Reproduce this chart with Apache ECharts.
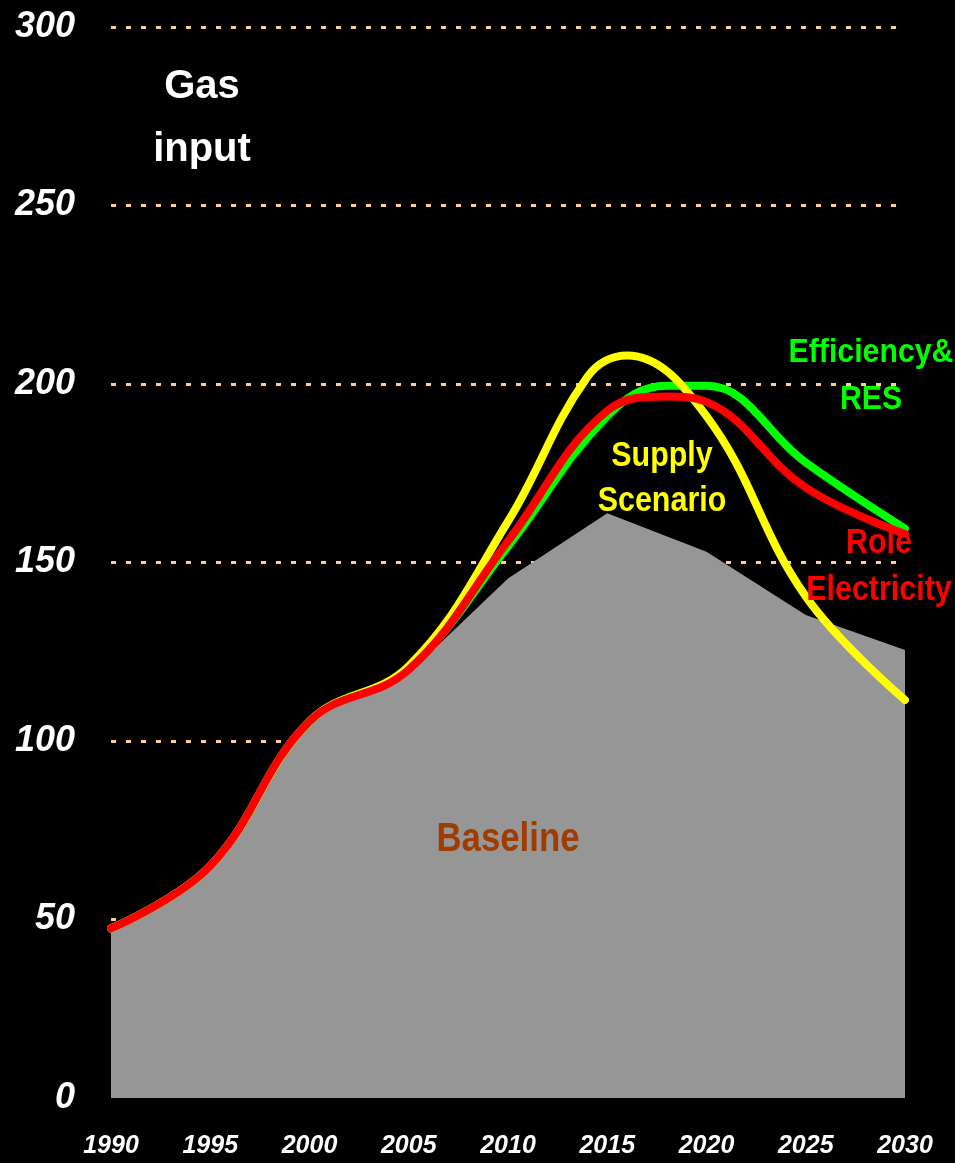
<!DOCTYPE html>
<html>
<head>
<meta charset="utf-8">
<script src="https://cdn.jsdelivr.net/npm/echarts@6/dist/echarts.min.js"></script>
<style>
html,body{margin:0;padding:0;background:#000;}
#chart{width:955px;height:1163px;}
</style>
</head>
<body>
<div id="chart"></div>
<script>
// ---- data ----
const yTicks = [0, 50, 100, 150, 200, 250, 300];
const gridValues = [50, 100, 150, 200, 250, 300];
const xTicks = [1990, 1995, 2000, 2005, 2010, 2015, 2020, 2025, 2030];

const baselineYears  = [1990, 1995, 2000, 2005, 2010, 2015, 2020, 2025, 2030];
const baselineValues = [47, 64, 106, 119, 145.5, 163.8, 153, 135.3, 125.5];

const efficiencyYears  = [1990, 1995, 2000, 2005, 2010, 2015, 2018, 2020, 2025, 2030];
const efficiencyValues = [47.5, 65, 105.5, 120.5, 154.5, 191, 199.5, 199.5, 178, 159.5];

const supplyYears  = [1990, 1995, 2000, 2005, 2010, 2014, 2016, 2020, 2025, 2030];
const supplyValues = [47.5, 65, 105.5, 121, 161.5, 202, 208, 191, 140.5, 111.5];

const roleYears  = [1990, 1995, 2000, 2005, 2010, 2015, 2018, 2020, 2025, 2030];
const roleValues = [47.5, 65, 105.5, 120, 156, 192.5, 196.5, 195, 171, 158];

const pairs = (xs, ys) => xs.map((x, i) => [x, ys[i]]);

const FONT = '"Liberation Sans", Arial, sans-serif';
const chart = echarts.init(document.getElementById('chart'));

function label(text, x, y, color, size, sx, lh) {
  return {
    type: 'text', x: x, y: y, z: 100, scaleX: sx,
    style: {
      text: text, fill: color, font: 'bold ' + size + 'px ' + FONT,
      align: 'center', verticalAlign: 'middle', lineHeight: lh || size
    }
  };
}

chart.setOption({
  backgroundColor: '#000000',
  animation: false,
  grid: { left: 111, right: 50, top: 27, bottom: 65 },
  xAxis: {
    type: 'value', min: xTicks[0], max: xTicks[xTicks.length - 1], interval: 5,
    axisLine: { show: false }, axisTick: { show: false }, splitLine: { show: false },
    axisLabel: {
      color: '#ffffff', fontFamily: FONT, fontWeight: 'bold', fontStyle: 'italic',
      fontSize: 25, margin: 36, formatter: v => String(v)
    }
  },
  yAxis: {
    type: 'value', min: yTicks[0], max: yTicks[yTicks.length - 1], interval: 50,
    axisLine: { show: false }, axisTick: { show: false },
    splitLine: { show: false },
    axisLabel: {
      color: '#ffffff', fontFamily: FONT, fontWeight: 'bold', fontStyle: 'italic',
      fontSize: 36, margin: 36
    }
  },
  series: [
    {
      name: 'grid', type: 'line', data: [], z: 0, zlevel: 0, silent: true,
      markLine: {
        silent: true, symbol: 'none', label: { show: false }, animation: false, z: 0,
        lineStyle: { color: '#FFCC99', width: 3, type: [5, 10] },
        data: gridValues.map(v => ({ yAxis: v }))
      }
    },
    {
      name: 'Baseline', type: 'line', data: pairs(baselineYears, baselineValues),
      showSymbol: false, symbol: 'none', z: 2,
      lineStyle: { width: 0, color: '#969696' },
      areaStyle: { color: '#969696', opacity: 1 }
    },
    {
      name: 'Efficiency&RES', type: 'line', data: pairs(efficiencyYears, efficiencyValues),
      smooth: 0.4, symbol: 'none', z: 3,
      lineStyle: { width: 8, color: '#00FF00', cap: 'round' }
    },
    {
      name: 'Supply Scenario', type: 'line', data: pairs(supplyYears, supplyValues),
      smooth: 0.4, symbol: 'none', z: 4,
      lineStyle: { width: 8, color: '#FFFF00', cap: 'round' }
    },
    {
      name: 'Role Electricity', type: 'line', data: pairs(roleYears, roleValues),
      smooth: 0.4, symbol: 'none', z: 5,
      lineStyle: { width: 8, color: '#FF0000', cap: 'round' }
    }
  ],
  graphic: [
    label('Gas\ninput', 202, 118, '#ffffff', 40, 1, 63),
    label('Efficiency&', 871, 353, '#00FF00', 34, 0.89),
    label('RES', 871, 400, '#00FF00', 34, 0.89),
    label('Supply', 662, 456, '#FFFF00', 35, 0.87),
    label('Scenario', 662, 501, '#FFFF00', 35, 0.87),
    label('Role', 879, 543, '#FF0000', 35, 0.87),
    label('Electricity', 879, 590, '#FF0000', 35, 0.87),
    label('Baseline', 508, 840, '#A03C00', 40, 0.87)
  ]
});
</script>
</body>
</html>
